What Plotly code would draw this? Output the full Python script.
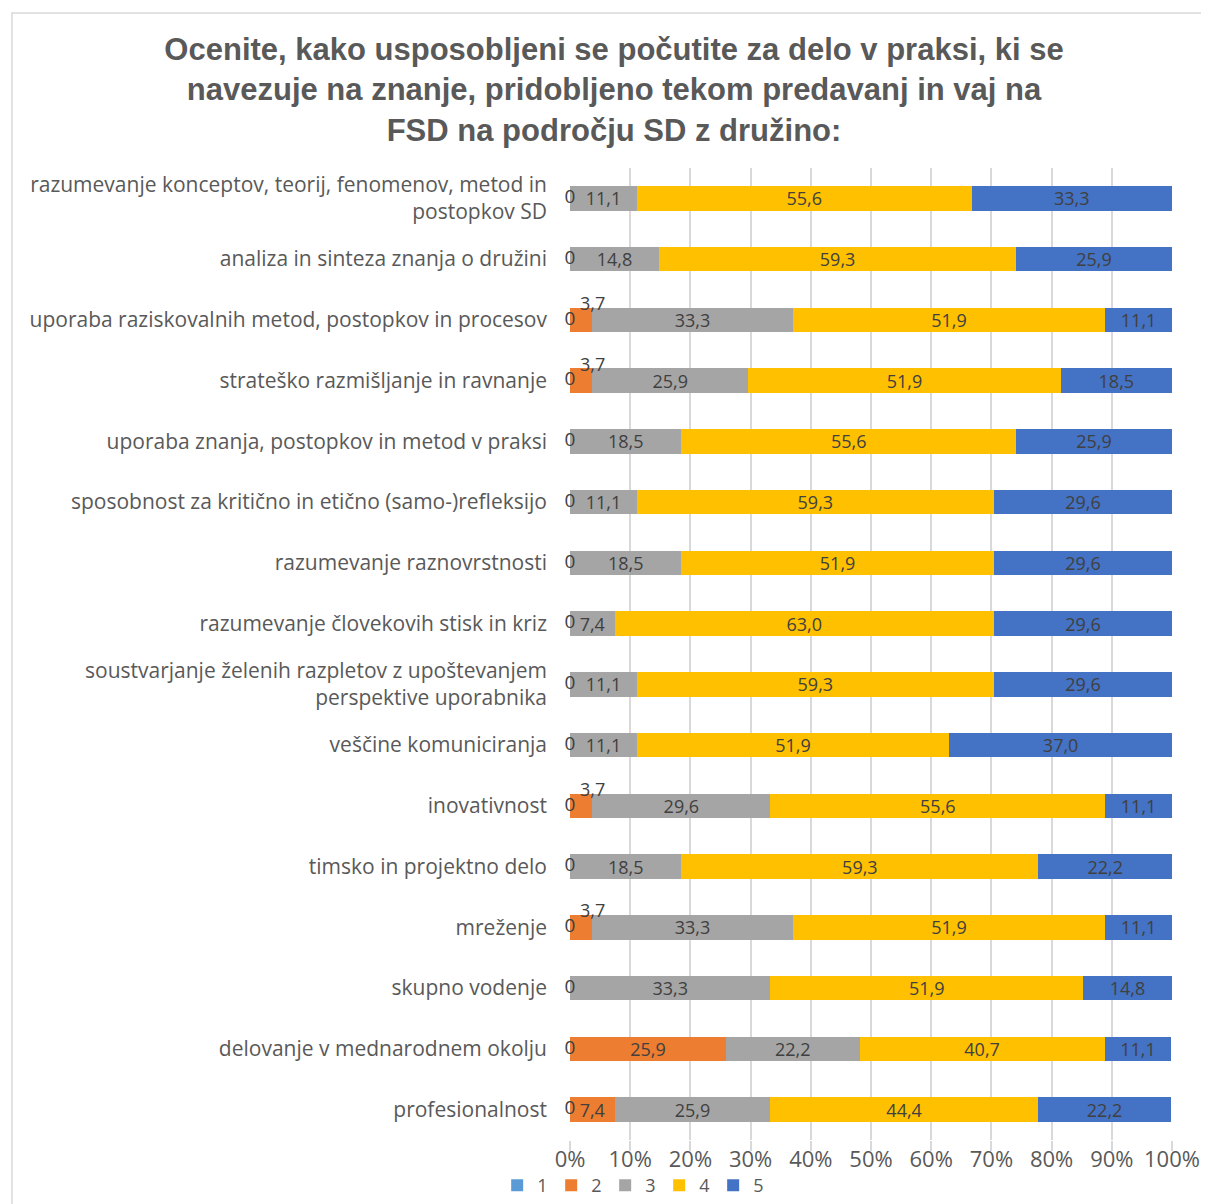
import plotly.graph_objects as go

# categories, top to bottom
categories = [
    "razumevanje konceptov, teorij, fenomenov, metod in<br>postopkov SD",
    "analiza in sinteza znanja o družini",
    "uporaba raziskovalnih metod, postopkov in procesov",
    "strateško razmišljanje in ravnanje",
    "uporaba znanja, postopkov in metod v praksi",
    "sposobnost za kritično in etično (samo-)refleksijo",
    "razumevanje raznovrstnosti",
    "razumevanje človekovih stisk in kriz",
    "soustvarjanje želenih razpletov z upoštevanjem<br>perspektive uporabnika",
    "veščine komuniciranja",
    "inovativnost",
    "timsko in projektno delo",
    "mreženje",
    "skupno vodenje",
    "delovanje v mednarodnem okolju",
    "profesionalnost",
]

# percentages per rating (None = no label in the source)
s1 = [0, 0, 0, 0, 0, 0, 0, 0, 0, 0, 0, 0, 0, 0, 0, 0]
s2 = [None, None, 3.7, 3.7, None, None, None, None, None, None, 3.7, None, 3.7, None, 25.9, 7.4]
s3 = [11.1, 14.8, 33.3, 25.9, 18.5, 11.1, 18.5, 7.4, 11.1, 11.1, 29.6, 18.5, 33.3, 33.3, 22.2, 25.9]
s4 = [55.6, 59.3, 51.9, 51.9, 55.6, 59.3, 51.9, 63.0, 59.3, 51.9, 55.6, 59.3, 51.9, 51.9, 40.7, 44.4]
s5 = [33.3, 25.9, 11.1, 18.5, 25.9, 29.6, 29.6, 29.6, 29.6, 37.0, 11.1, 22.2, 11.1, 14.8, 11.1, 22.2]

series_names = ["1", "2", "3", "4", "5"]
colors = ["#5B9BD5", "#ED7D31", "#A5A5A5", "#FFC000", "#4472C4"]

x_ticks = [0, 10, 20, 30, 40, 50, 60, 70, 80, 90, 100]
x_labels = ["0%", "10%", "20%", "30%", "40%", "50%", "60%", "70%", "80%", "90%", "100%"]

TXT = "#404040"
FONT = "Open Sans"


def fmt(v):
    if v is None:
        return ""
    if v == 0:
        return "0"
    return ("%.1f" % v).replace(".", ",")


fig = go.Figure()

for name, vals, col in zip(series_names, [s1, s2, s3, s4, s5], colors):
    if name == "1":
        texts = [""] * len(vals)
    elif name == "2":
        # small orange slices get their label above the bar (annotations below)
        texts = [fmt(v) if (v is not None and v > 5) else "" for v in vals]
    else:
        texts = [fmt(v) for v in vals]
    fig.add_trace(go.Bar(
        y=categories,
        x=[0 if v is None else v for v in vals],
        name=name,
        orientation="h",
        marker=dict(color=col, line=dict(width=0)),
        text=texts,
        textposition="inside",
        insidetextanchor="middle",
        textangle=0,
        textfont=dict(color=TXT, size=18, family=FONT),
        hoverinfo="skip",
    ))

# zero labels for rating 1
fig.add_trace(go.Scatter(
    y=categories, x=s1, mode="text",
    text=[fmt(v) for v in s1],
    textposition="middle center",
    textfont=dict(color=TXT, size=19, family=FONT),
    showlegend=False, cliponaxis=False, hoverinfo="skip",
))

# small rating 2 labels, sitting above the end of the bar
for cat, v in zip(categories, s2):
    if v is not None and v <= 5:
        fig.add_annotation(
            x=v, y=cat, text=fmt(v), showarrow=False,
            yshift=17, font=dict(color=TXT, size=18, family=FONT),
        )

fig.update_layout(
    barmode="stack",
    bargap=0.6,
    width=1201, height=1196,
    margin=dict(l=562, r=37, t=160, b=64, autoexpand=False),
    paper_bgcolor="#ffffff",
    plot_bgcolor="#ffffff",
    uniformtext=dict(minsize=18, mode="show"),
    title=dict(
        text="Ocenite, kako usposobljeni se počutite za delo v praksi, ki se<br>"
             "navezuje na znanje, pridobljeno tekom predavanj in vaj na<br>"
             "FSD na področju SD z družino:",
        font=dict(family="Liberation Sans", size=31, color="#595959", weight="bold"),
        x=0.5046, xanchor="center", xref="container",
        y=0.9565, yanchor="top", yref="container",
    ),
    legend=dict(
        orientation="h",
        xref="container", yref="container",
        x=0.4073, xanchor="left",
        y=-0.0085, yanchor="bottom",
        font=dict(family=FONT, size=18, color="#595959"),
        traceorder="normal",
        itemwidth=30,
        entrywidth=9,
        bgcolor="rgba(0,0,0,0)",
    ),
    shapes=[dict(
        type="rect", xref="paper", yref="paper",
        x0=-0.927, x1=1.2, y0=-0.3, y1=1.1595,
        line=dict(color="#D9D9D9", width=1.5),
        fillcolor="rgba(0,0,0,0)", layer="below",
    )],
)

fig.update_xaxes(
    range=[0, 100],
    tickvals=x_ticks, ticktext=x_labels,
    showgrid=True, gridcolor="#D9D9D9", gridwidth=1.5,
    zeroline=False, showline=False, automargin=False,
    ticks="outside", ticklen=10, tickcolor="#D9D9D9", tickwidth=1.5,
    ticklabelstandoff=-10,
    tickfont=dict(family=FONT, size=22, color="#595959"),
)
fig.update_yaxes(
    range=[len(categories) - 0.5, -0.5], automargin=False,
    showgrid=False, zeroline=False, showline=False,
    ticks="", ticklabelstandoff=22,
    tickfont=dict(family=FONT, size=21, color="#595959"),
)

fig.write_html("out.html")
